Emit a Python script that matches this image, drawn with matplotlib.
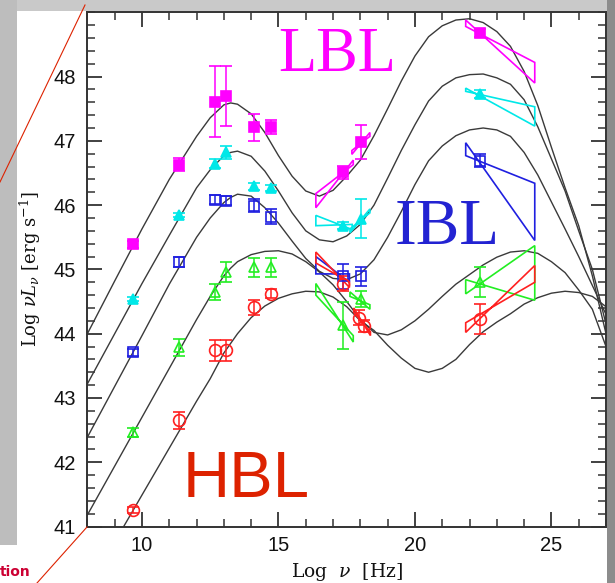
import matplotlib
matplotlib.use("Agg")
import matplotlib.pyplot as plt
from matplotlib.patches import Polygon, Rectangle
from matplotlib.lines import Line2D
from matplotlib.ticker import MultipleLocator

plt.rcParams['mathtext.fontset'] = 'dejavuserif'

# ---------------- data ----------------
# model curves
curve_x = [8, 9, 10, 11, 12, 12.5, 13, 13.25, 13.5, 14, 14.5, 15, 15.5, 16, 16.5, 17, 17.5,
           18, 18.5, 19, 19.5, 20, 20.5, 21, 21.5, 22, 22.5, 23, 23.5, 24, 24.5,
           25, 25.5, 26, 26.5, 27]
curve_lbl = [44.0, 44.82, 45.63, 46.40, 47.07, 47.36, 47.56, 47.59, 47.57, 47.42, 47.13, 46.77,
             46.45, 46.22, 46.14, 46.23, 46.45, 46.70, 47.08, 47.50, 47.93, 48.32, 48.62,
             48.79, 48.88, 48.90, 48.84, 48.70, 48.47, 48.08, 47.55, 46.90, 46.27, 45.68,
             44.90, 44.0]
curve_2 = [43.22, 44.0, 44.78, 45.53, 46.27, 46.55, 46.77, 46.82, 46.84, 46.76, 46.53, 46.22,
           45.88, 45.60, 45.46, 45.43, 45.52, 45.70, 46.0, 46.42, 46.85, 47.25, 47.62,
           47.85, 47.98, 48.03, 48.04, 47.98, 47.88, 47.64, 47.22, 46.72, 46.22, 45.60,
           45.0, 44.15]
curve_3 = [42.39, 43.18, 43.97, 44.77, 45.50, 45.80, 46.04, 46.12, 46.17, 46.14, 45.96, 45.72,
           45.44, 45.17, 44.97, 44.86, 44.84, 44.93, 45.15, 45.50, 45.90, 46.32, 46.69,
           46.92, 47.08, 47.17, 47.20, 47.17, 47.07, 46.82, 46.47, 46.05, 45.63, 45.20,
           44.75, 44.30]
curve_4 = [41.18, 41.94, 42.70, 43.46, 44.22, 44.58, 44.90, 45.02, 45.12, 45.23, 45.28, 45.29,
           45.24, 45.12, 44.96, 44.76, 44.50, 44.22, 44.02, 43.98, 44.06, 44.20, 44.38,
           44.58, 44.77, 44.92, 45.07, 45.19, 45.27, 45.29, 45.25, 45.12, 44.95, 44.68,
           44.38, 43.80]
curve5_x = [9.33, 10, 11, 12, 12.5, 13, 13.5, 14, 14.5, 15, 15.5, 16, 16.5, 17, 17.5,
            18, 18.5, 19, 19.5, 20, 20.5, 21, 21.5, 22, 22.5, 23, 23.5, 24, 24.5,
            25, 25.5, 26, 26.5, 27]
curve_hbl = [41.0, 41.49, 42.22, 42.95, 43.30, 43.70, 44.0, 44.25, 44.43, 44.55, 44.62,
             44.66, 44.65, 44.57, 44.42, 44.20, 44.05, 43.82, 43.62, 43.46, 43.40, 43.46,
             43.60, 43.83, 44.03, 44.18, 44.31, 44.46, 44.56, 44.63, 44.66, 44.64, 44.58,
             44.42]

# data points: radio, mm, optical..., X-ray, gamma
pts_x = [9.68, 11.35, 12.67, 13.07, 14.11, 14.71, 17.35, 18.01, 22.38]
lbl_y = [45.39, 46.63, 47.61, 47.70, 47.21, 47.21, 46.51, 46.98, 48.68]
lbl_err = [0.05, 0.10, 0.55, 0.47, 0.21, 0.11, 0.10, 0.26, 0.06]
c2_y = [44.54, 45.84, 46.64, 46.82, 46.29, 46.27, 45.68, 45.79, 47.73]
c2_err = [0.03, 0.03, 0.07, 0.10, 0.05, 0.05, 0.05, 0.30, 0.06]
ibl_y = [43.71, 45.11, 46.08, 46.07, 45.99, 45.82, 44.89, 44.89, 46.69]
ibl_err = [0.05, 0.08, 0.07, 0.07, 0.10, 0.12, 0.20, 0.15, 0.10]
c4_y = [42.47, 43.79, 44.65, 44.96, 45.03, 45.03, 44.13, 44.54, 44.80]
c4_err = [0.07, 0.13, 0.12, 0.16, 0.15, 0.15, 0.37, 0.12, 0.23]
hbl_pts_x = [9.68, 11.35, 12.67, 13.07, 14.11, 14.71, 17.35, 17.95, 18.15, 22.38]
hbl_y = [41.26, 42.65, 43.74, 43.74, 44.41, 44.62, 44.78, 44.25, 44.12, 44.23]
hbl_err = [0.05, 0.13, 0.16, 0.16, 0.12, 0.07, 0.12, 0.12, 0.10, 0.23]

# bow-ties: (x_left, x_right, left_top, left_bottom, right_top, right_bottom)
lbl_bows = [(16.37, 17.74, 46.18, 45.96, 46.70, 46.63),
            (17.69, 18.35, 46.85, 46.79, 47.13, 47.07),
            (21.86, 24.39, 48.88, 48.78, 48.22, 47.90)]
c2_bows = [(16.37, 17.70, 45.84, 45.68, 45.70, 45.62),
           (17.62, 18.35, 45.63, 45.57, 45.94, 45.88),
           (21.86, 24.39, 47.82, 47.77, 47.53, 47.23)]
ibl_bows = [(16.37, 17.60, 45.20, 44.93, 44.93, 44.80),
            (21.86, 24.39, 46.97, 46.77, 46.34, 45.45)]
c4_bows = [(16.37, 17.74, 44.78, 44.60, 43.97, 43.87),
           (17.62, 18.35, 44.65, 44.58, 44.45, 44.38),
           (21.86, 24.39, 44.84, 44.62, 45.37, 44.52)]
hbl_bows = [(16.37, 17.60, 45.27, 45.10, 44.80, 44.72),
            (17.76, 18.37, 44.40, 44.33, 44.03, 43.97),
            (21.86, 24.39, 44.17, 44.02, 45.06, 44.80)]

x_ticks = [10, 15, 20, 25]
y_ticks = [41, 42, 43, 44, 45, 46, 47, 48]

# ---------------- figure ----------------
W, H = 615, 583
fig = plt.figure(figsize=(W / 100, H / 100), dpi=100)
fig.patch.set_facecolor('white')

# slide background pieces around the chart
fig.patches.append(Rectangle((0, 1 - 11 / H), 1, 11 / H, transform=fig.transFigure,
                             facecolor='#c9c9c9', edgecolor='none', zorder=-4))
fig.patches.append(Rectangle((0, 38 / H), 17 / W, 1, transform=fig.transFigure,
                             facecolor='#bdbdbd', edgecolor='none', zorder=-4))
fig.patches.append(Rectangle((607 / W, 0), 8 / W, 1, transform=fig.transFigure,
                             facecolor='#8c8c8c', edgecolor='none', zorder=-4))
fig.lines.append(Line2D([0, 85 / W], [1 - 182 / H, 1 - 5 / H], transform=fig.transFigure,
                        color='#dd2200', lw=0.8))
fig.lines.append(Line2D([87 / W, 37 / W], [1 - 527 / H, 0], transform=fig.transFigure,
                        color='#dd2200', lw=0.8))
fig.text(0, 4 / H, 'tion', color='#cc0033', fontsize=10, fontweight='bold',
         family='DejaVu Sans', ha='left', va='bottom')

ax = fig.add_axes([87.4 / W, 1 - 526.5 / H, (606 - 87.4) / W, (526.5 - 12.3) / H])
ax.set_xlim(8, 27)
ax.set_ylim(41, 49)

curve_kw = dict(color='#3a3a3a', lw=1.0, zorder=2)
for cy in (curve_lbl, curve_2, curve_3, curve_4):
    ax.plot(curve_x, cy, **curve_kw)
ax.plot(curve5_x, curve_hbl, **curve_kw)

series = [
    ('#ff00ff', pts_x, lbl_y, lbl_err, 's', True, lbl_bows),
    ('#00e8e8', pts_x, c2_y, c2_err, '^', True, c2_bows),
    ('#1f1fe0', pts_x, ibl_y, ibl_err, 's', False, ibl_bows),
    ('#22ee22', pts_x, c4_y, c4_err, '^', False, c4_bows),
    ('#ff2020', hbl_pts_x, hbl_y, hbl_err, 'o', False, hbl_bows),
]
for col, xs, ys, es, mk, filled, bows in series:
    for (xl, xr, lt, lb, rt, rb) in bows:
        ax.add_patch(Polygon([(xl, lt), (xr, rb), (xr, rt), (xl, lb)], closed=True,
                             fill=False, edgecolor=col, lw=1.2, zorder=3))
    ms = 8.5 if mk == 'o' else 7.5
    ax.errorbar(xs, ys, yerr=es, fmt=mk, color=col, ecolor=col, elinewidth=1.1,
                capsize=4.5, capthick=1.1, markersize=ms,
                markerfacecolor=col if filled else 'none', markeredgecolor=col,
                markeredgewidth=1.2, zorder=4)

ax.text(14.98, 48.09, 'LBL', color='#ff00ff', fontsize=45, family='Liberation Serif',
        ha='left', va='baseline', zorder=5)
ax.text(19.26, 45.40, 'IBL', color='#2323d2', fontsize=47, family='Liberation Serif',
        ha='left', va='baseline', zorder=5)
ax.text(11.5, 41.46, 'HBL', color='#dd2200', fontsize=47, family='Liberation Sans',
        ha='left', va='baseline', zorder=5)

# axes styling
for sp in ax.spines.values():
    sp.set_linewidth(1.4)
    sp.set_color('#333333')
ax.set_xticks(x_ticks)
ax.set_yticks(y_ticks)
ax.xaxis.set_minor_locator(MultipleLocator(1))
ax.yaxis.set_minor_locator(MultipleLocator(0.2))
ax.tick_params(which='both', direction='in', top=True, right=True, colors='#333333')
ax.tick_params(which='major', length=11, width=1.3)
ax.tick_params(which='minor', length=6, width=1.1)
ax.tick_params(axis='y', pad=8)
ax.tick_params(axis='x', pad=7)
for lab in ax.get_xticklabels() + ax.get_yticklabels():
    lab.set_family('Liberation Sans')
    lab.set_fontsize(14.5)
    lab.set_color('#111111')

ax.set_xlabel(r'Log  $\nu$  [Hz]', family='DejaVu Serif', fontsize=13.5, labelpad=4,
              color='#111111')
ax.set_ylabel(r'Log $\nu L_\nu$ [erg s$^{-1}$]', family='DejaVu Serif', fontsize=13,
              labelpad=8, color='#111111')

fig.savefig('out.png', dpi=100)
